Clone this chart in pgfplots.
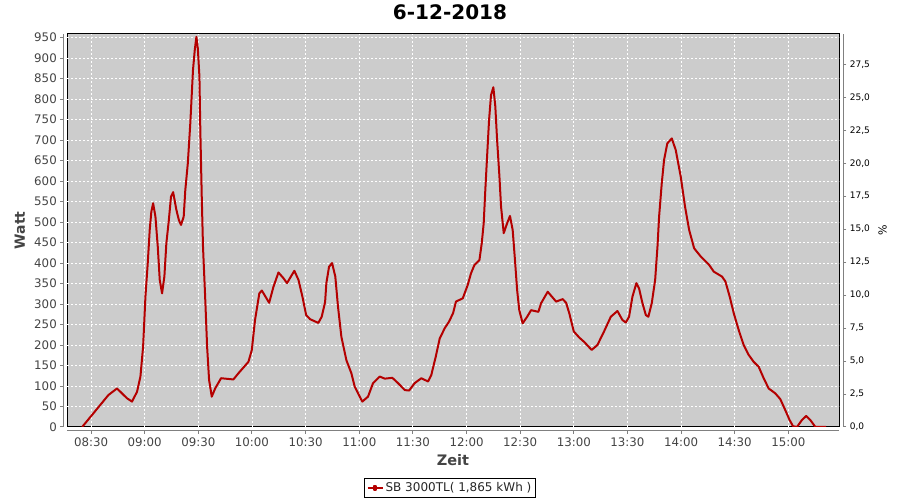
\documentclass[border=0pt]{standalone}
\usepackage{pgfplots}
\pgfplotsset{compat=1.18}
\usepackage{pgfplotstable}
\usepackage{fontspec}
\setmainfont{DejaVu Sans}
\definecolor{plotbg}{HTML}{CCCCCC}
\definecolor{linered}{RGB}{180,0,0}
\definecolor{axgray}{HTML}{808080}
\definecolor{txtgray}{HTML}{444444}
\pgfplotstableread{
m W
25.0 0
39.7 78
44.5 94
50.1 70
52.9 62
55.7 86
57.6 123
59.1 196
60.4 318
61.7 400
62.8 481
63.7 525
64.7 546
66.0 513
67.3 440
68.4 359
69.7 326
71.0 367
72.1 448
73.5 505
74.7 562
75.9 573
77.7 530
79.1 505
80.3 493
81.8 513
82.7 578
84.1 643
85.5 741
87.0 871
88.0 920
88.9 952
89.7 924
90.6 855
91.1 725
91.9 562
92.6 440
93.8 318
94.9 196
96.0 115
97.5 74
99.4 94
102.7 119
109.6 116
112.4 131
118.0 159
119.9 188
121.7 261
124.1 326
125.5 333
129.6 303
132.0 342
134.8 377
137.6 363
139.6 351
142.3 371
143.7 381
146.0 359
148.2 318
150.3 273
152.5 263
157.1 254
159.0 269
160.9 305
161.6 351
163.1 391
164.8 400
166.6 367
168.1 294
170.0 220
172.8 163
175.6 131
177.5 98
181.7 62
184.9 74
187.7 107
191.4 123
194.3 118
198.5 120
201.7 107
205.5 90
207.9 89
211.0 107
214.7 119
218.5 111
220.3 127
222.8 172
225.0 216
227.8 241
230.2 257
232.5 278
234.1 306
237.9 314
240.7 347
242.5 375
244.4 395
247.2 407
248.5 448
249.6 497
250.5 578
251.5 660
252.6 749
253.7 810
255.0 829
256.1 782
257.1 700
258.4 611
259.3 538
260.8 473
262.7 497
264.3 515
265.8 481
267.1 407
268.3 334
269.5 285
271.4 253
273.9 269
276.1 285
280.2 281
281.7 302
285.4 330
290.1 306
293.8 312
295.7 303
297.5 277
300.0 233
303.1 218
305.7 208
310.0 188
313.2 200
316.9 233
320.7 269
324.4 283
327.2 261
329.1 255
330.9 269
332.8 318
335.0 351
336.5 338
338.4 302
340.3 273
341.7 269
343.6 302
345.5 359
346.8 440
347.7 513
349.2 595
350.5 652
352.3 692
354.8 704
357.0 676
359.8 611
362.2 538
364.5 481
367.3 436
371.0 416
375.6 396
378.3 379
382.9 367
384.8 355
387.2 318
389.5 277
392.2 237
395.0 200
397.8 176
400.6 159
403.4 147
406.2 119
409.0 94
412.7 82
415.5 68
418.3 41
420.7 17
422.6 2
424.8 0
427.6 17
430.0 27
432.3 17
435.1 0
441.1 0
}\powerdata
\begin{document}
\begin{tikzpicture}[x=1pt,y=1pt]
\begin{axis}[
  at={(67.3pt,73pt)}, anchor=south west,
  scale only axis, width=772pt, height=393pt,
  xmin=16.7, xmax=448.5, ymin=0, ymax=958.9,
  axis lines*=left,
  axis x line shift=4pt, axis y line shift=4pt,
  axis line style={axgray, line width=1pt},
  axis background/.style={fill=plotbg, draw=black, line width=1pt},
  tick align=outside, major tick length=3pt,
  tick style={axgray, line width=1pt},
  grid=major,
  major grid style={white, line width=0.9pt, dash pattern=on 2pt off 2pt},
  xtick={30,60,...,420},
  xticklabels={08:30,09:00,09:30,10:00,10:30,11:00,11:30,12:00,12:30,13:00,13:30,14:00,14:30,15:00},
  ytick={0,50,...,950},
  /pgf/number format/assume math mode=true,
  /pgf/number format/set thousands separator={},
  tick label style={font=\fontsize{11.8}{13}\selectfont, text=txtgray},
  title={6-12-2018},
  every axis title/.style={at={(axis description cs:0.4957,1.0547)}, anchor=center, font=\fontsize{20}{22}\selectfont\bfseries, text=black},
  xlabel={Zeit}, ylabel={Watt},
  every axis x label/.style={at={(axis description cs:0.4996,-0.084)}, anchor=center, font=\fontsize{14.5}{16}\selectfont\bfseries, text=txtgray},
  every axis y label/.style={at={(axis description cs:-0.0613,0.5)}, rotate=90, anchor=center, font=\fontsize{14}{16}\selectfont\bfseries, text=txtgray},
  legend style={at={(axis description cs:0.4957,-0.155)}, anchor=center, draw=black, line width=0.8pt, fill=white, font=\fontsize{12}{14}\selectfont, text=black!85, inner xsep=2pt, inner ysep=2.5pt},
  legend image code/.code={\draw[line width=2pt, linered] (0pt,0pt) -- (15pt,0pt); \fill[linered] (6.5pt,-1.6pt) rectangle (8.5pt,1.6pt);},
]
\addplot[line width=2pt, color=linered, line join=round] table[x=m, y=W] {\powerdata};
\addlegendentry{SB 3000TL( 1,865 kWh )}
\end{axis}
\begin{axis}[
  at={(67.3pt,73pt)}, anchor=south west,
  scale only axis, width=772pt, height=393pt,
  xmin=16.7, xmax=448.5, ymin=0, ymax=29.8,
  axis x line=none,
  axis y line*=right, axis y line shift=4pt,
  axis line style={axgray, line width=1pt},
  tick align=outside, major tick length=3pt,
  tick style={axgray, line width=1pt},
  ytick={0,2.5,...,27.5},
  /pgf/number format/assume math mode=true,
  /pgf/number format/.cd, fixed, fixed zerofill, precision=1, use comma,
  /pgfplots/.cd,
  yticklabel style={font=\fontsize{9}{11}\selectfont, text=black},
  ylabel={\%},
  every axis y label/.style={at={(axis description cs:1.0562,0.5)}, rotate=90, anchor=center, font=\fontsize{11}{13}\selectfont, text=black},
]
\end{axis}
\pgfresetboundingbox
\path[use as bounding box] (0,0) rectangle (900,500);
\end{tikzpicture}
\end{document}
